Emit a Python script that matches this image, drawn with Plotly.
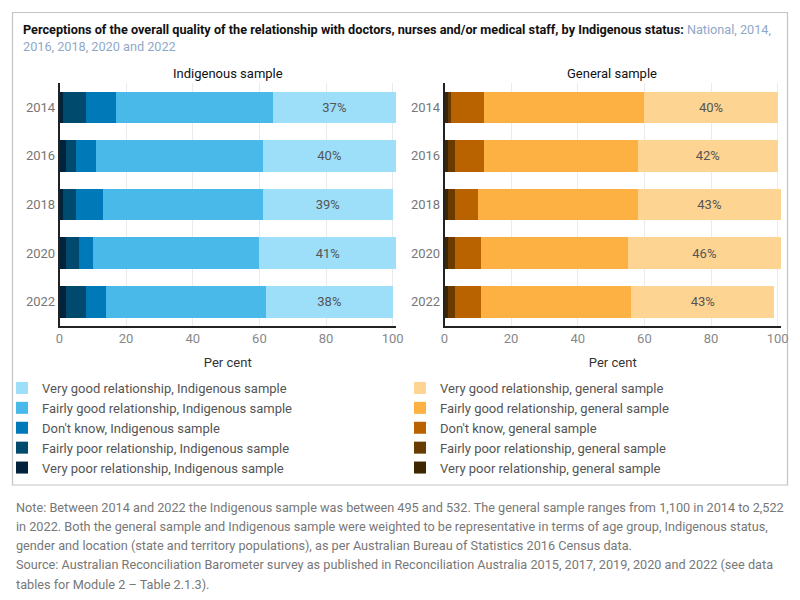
import plotly.graph_objects as go

years = ["2014", "2016", "2018", "2020", "2022"]
categories = ["Very poor relationship", "Fairly poor relationship", "Don't know",
              "Fairly good relationship", "Very good relationship"]

# Indigenous sample (per cent)
ind_very_poor = [1, 2, 1, 2, 2]
ind_fairly_poor = [7, 3, 4, 4, 6]
ind_dont_know = [9, 6, 8, 4, 6]
ind_fairly_good = [47, 50, 48, 50, 48]
ind_very_good = [37, 40, 39, 41, 38]

# General sample (per cent)
gen_very_poor = [1, 1, 1, 1, 1]
gen_fairly_poor = [1, 2, 2, 2, 2]
gen_dont_know = [10, 9, 7, 8, 8]
gen_fairly_good = [48, 46, 48, 44, 45]
gen_very_good = [40, 42, 43, 46, 43]

ind_colors = ["#00233b", "#004a6d", "#0079b8", "#48b9e8", "#9ddff9"]
gen_colors = ["#3e2700", "#6a3b00", "#b86300", "#fdb143", "#fed492"]

ind_series = [ind_very_poor, ind_fairly_poor, ind_dont_know, ind_fairly_good, ind_very_good]
gen_series = [gen_very_poor, gen_fairly_poor, gen_dont_know, gen_fairly_good, gen_very_good]

note_lines = [
    "Note: Between 2014 and 2022 the Indigenous sample was between 495 and 532. The general sample ranges from 1,100 in 2014 to 2,522",
    "in 2022. Both the general sample and Indigenous sample were weighted to be representative in terms of age group, Indigenous status,",
    "gender and location (state and territory populations), as per Australian Bureau of Statistics 2016 Census data.",
    "Source: Australian Reconciliation Barometer survey as published in Reconciliation Australia 2015, 2017, 2019, 2020 and 2022 (see data",
    "tables for Module 2 \u2013 Table 2.1.3).",
]

FONT = "Roboto, 'Noto Sans', sans-serif"
W, H = 800, 600


def px_x(p):
    return p / W


def px_y(p):
    return 1 - p / H


fig = go.Figure()

for i, cat in enumerate(categories):
    vals = ind_series[i]
    is_top = cat == "Very good relationship"
    fig.add_trace(go.Bar(
        y=years, x=vals, orientation="h", name=cat + ", Indigenous sample",
        marker=dict(color=ind_colors[i], line=dict(width=0)),
        xaxis="x", yaxis="y", legend="legend",
        text=[f"{v}%" for v in vals] if is_top else None,
        textposition="inside" if is_top else "none",
        insidetextanchor="middle",
        textfont=dict(color="#555555", size=13, family=FONT),
        width=0.65, hoverinfo="skip",
    ))
for i, cat in enumerate(categories):
    vals = gen_series[i]
    is_top = cat == "Very good relationship"
    fig.add_trace(go.Bar(
        y=years, x=vals, orientation="h", name=cat + ", general sample",
        marker=dict(color=gen_colors[i], line=dict(width=0)),
        xaxis="x2", yaxis="y2", legend="legend2",
        text=[f"{v}%" for v in vals] if is_top else None,
        textposition="inside" if is_top else "none",
        insidetextanchor="middle",
        textfont=dict(color="#555555", size=13, family=FONT),
        width=0.65, hoverinfo="skip",
    ))

ydom = [px_y(326), px_y(83)]
xaxis_common = dict(
    range=[0, 101], tickvals=[0, 20, 40, 60, 80, 100],
    showgrid=True, gridcolor="#ebebeb", gridwidth=1,
    showline=True, linecolor="#222222", linewidth=1.5,
    zeroline=False, ticks="",
    tickfont=dict(color="#888888", size=13, family=FONT),
    title=dict(text="Per cent", font=dict(color="#333333", size=13, family=FONT), standoff=13),
    automargin=False, fixedrange=True,
)
yaxis_common = dict(
    categoryorder="array", categoryarray=years, autorange="reversed",
    showline=True, linecolor="#222222", linewidth=1.5, showgrid=False,
    ticks="", tickfont=dict(color="#777777", size=13, family=FONT),
    automargin=False, domain=ydom, fixedrange=True,
)

fig.update_layout(
    width=W, height=H,
    margin=dict(l=0, r=0, t=0, b=0),
    paper_bgcolor="white", plot_bgcolor="white",
    barmode="stack", bargap=0.35,
    font=dict(family=FONT, color="#333333"),
    xaxis=dict(domain=[px_x(59.5), px_x(396)], anchor="y", **xaxis_common),
    yaxis=dict(anchor="x", **yaxis_common),
    xaxis2=dict(domain=[px_x(444.5), px_x(781)], anchor="y2", **xaxis_common),
    yaxis2=dict(anchor="x2", **yaxis_common),
    legend=dict(x=px_x(2), y=px_y(373), xanchor="left", yanchor="top",
                traceorder="reversed", font=dict(size=13, color="#555555", family=FONT),
                bgcolor="rgba(0,0,0,0)", tracegroupgap=0),
    legend2=dict(x=px_x(400), y=px_y(373), xanchor="left", yanchor="top",
                 traceorder="reversed", font=dict(size=13, color="#555555", family=FONT),
                 bgcolor="rgba(0,0,0,0)", tracegroupgap=0),
    showlegend=True,
)

fig.add_shape(type="rect", xref="paper", yref="paper",
              x0=px_x(12.5), x1=px_x(787.5), y0=px_y(485), y1=px_y(12.5),
              line=dict(color="#c4c4c4", width=1.2), fillcolor="rgba(0,0,0,0)", layer="below")

title_text = ("<b>Perceptions of the overall quality of the relationship with doctors, nurses and/or medical "
              "staff, by Indigenous status:</b> <span style='color:#8fa8c8'>National, 2014,</span><br>"
              "<span style='color:#8fa8c8'>2016, 2018, 2020 and 2022</span>")
fig.add_annotation(text=title_text, xref="paper", yref="paper", x=px_x(21), y=px_y(20),
                   xanchor="left", yanchor="top", align="left", showarrow=False,
                   font=dict(size=12.7, color="#111111", family=FONT))

fig.add_annotation(text="Indigenous sample", xref="paper", yref="paper",
                   x=px_x(228), y=px_y(74), xanchor="center", yanchor="middle", showarrow=False,
                   font=dict(size=13, color="#111111", family=FONT))
fig.add_annotation(text="General sample", xref="paper", yref="paper",
                   x=px_x(612), y=px_y(74), xanchor="center", yanchor="middle", showarrow=False,
                   font=dict(size=13, color="#111111", family=FONT))

for k, line in enumerate(note_lines):
    fig.add_annotation(text=line, xref="paper", yref="paper", x=px_x(14), y=px_y(507 + 19.3 * k),
                       xanchor="left", yanchor="middle", align="left", showarrow=False,
                       font=dict(size=12.7, color="#777777", family=FONT))

fig.write_html("out.html")
